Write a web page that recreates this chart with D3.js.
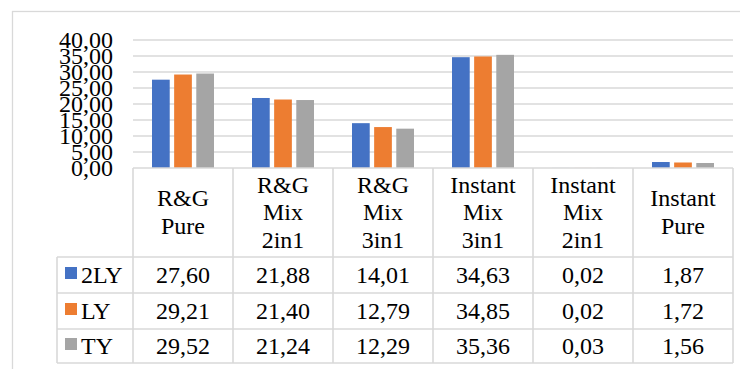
<!DOCTYPE html>
<html><head><meta charset="utf-8"><script src="https://cdn.jsdelivr.net/npm/d3@7"></script></head>
<body><svg id="chart" width="748" height="369" font-family="Liberation Serif"></svg>
<script>
// Product categories (each word goes on its own header line)
const categories = ["R&G Pure", "R&G Mix 2in1", "R&G Mix 3in1", "Instant Mix 3in1", "Instant Mix 2in1", "Instant Pure"];
// Series names and their values per category
const seriesNames = ["2LY", "LY", "TY"];
const values2LY = [27.60, 21.88, 14.01, 34.63, 0.02, 1.87];
const valuesLY  = [29.21, 21.40, 12.79, 34.85, 0.02, 1.72];
const valuesTY  = [29.52, 21.24, 12.29, 35.36, 0.03, 1.56];
const yTicks = [0, 5, 10, 15, 20, 25, 30, 35, 40];

const seriesValues = [values2LY, valuesLY, valuesTY];
const colors = ["#4472C4", "#ED7D31", "#A5A5A5"];
const gridColor = "#D9D9D9";
const fontSize = 24;
const fmt = v => d3.format(".2f")(v).replace(".", ",");

// the page keeps its default body margin, so the drawing is shifted back by it
const svg = d3.select("#chart").append("g").attr("transform", "translate(-8,-8)");

// Outer chart frame
svg.append("rect")
  .attr("x", 12.5).attr("y", 11.5)
  .attr("width", 800).attr("height", 400)
  .attr("fill", "none").attr("stroke", gridColor).attr("stroke-width", 1.3);

const plotLeft = 133, plotRight = 733, plotTop = 40, plotBottom = 168;
const x = d3.scaleBand().domain(categories).range([plotLeft, plotRight]).padding(0);
const y = d3.scaleLinear().domain([0, 40]).range([plotBottom, plotTop]);
const xs = d3.scaleBand().domain(seriesNames)
  .range([19, x.bandwidth() - 19]).paddingInner(0.2).paddingOuter(0);

// Horizontal gridlines
svg.append("g").selectAll("line")
  .data(yTicks.filter(t => t > 0))
  .join("line")
  .attr("x1", plotLeft).attr("x2", plotRight)
  .attr("y1", d => y(d)).attr("y2", d => y(d))
  .attr("stroke", gridColor).attr("stroke-width", 1.6);

const textStyle = sel => sel
  .attr("font-family", "Liberation Serif")
  .style("font-family", "'Liberation Serif'")
  .attr("font-size", fontSize)
  .attr("fill", "#000");

// Y axis labels
const yAxis = d3.axisLeft(y).tickValues(yTicks).tickFormat(fmt).tickSize(0).tickPadding(0);
const yg = svg.append("g").attr("transform", "translate(113,0)").call(yAxis);
yg.attr("font-family", "Liberation Serif").attr("font-size", fontSize);
yg.select(".domain").remove();
yg.selectAll("text")
  .call(textStyle)
  .attr("dy", "0.3em")
  .attr("text-anchor", "end");

// Bars
const groups = svg.append("g").selectAll("g")
  .data(categories)
  .join("g")
  .attr("transform", d => `translate(${x(d)},0)`);

groups.selectAll("rect")
  .data((d, i) => seriesNames.map((s, k) => ({ s, k, v: seriesValues[k][i] })))
  .join("rect")
  .attr("x", d => xs(d.s))
  .attr("width", xs.bandwidth())
  .attr("y", d => y(d.v))
  .attr("height", d => y(0) - y(d.v))
  .attr("fill", d => colors[d.k]);

// Data table
const headerTop = plotBottom, headerBottom = 257;
const rowEdges = [257, 293, 329, 363];
const legendLeft = 57;
const tbl = svg.append("g").attr("stroke", gridColor).attr("stroke-width", 1.6);

// table top line (also the category axis)
tbl.append("line").attr("x1", plotLeft).attr("x2", plotRight)
  .attr("y1", headerTop).attr("y2", headerTop);
// row separators
tbl.selectAll("line.row").data(rowEdges).join("line").attr("class", "row")
  .attr("x1", legendLeft).attr("x2", plotRight)
  .attr("y1", d => d).attr("y2", d => d);
// column separators
const colEdges = categories.map(c => x(c)).concat([plotRight]);
tbl.selectAll("line.col").data(colEdges).join("line").attr("class", "col")
  .attr("x1", d => d).attr("x2", d => d)
  .attr("y1", headerTop).attr("y2", rowEdges[rowEdges.length - 1]);
tbl.append("line").attr("x1", legendLeft).attr("x2", legendLeft)
  .attr("y1", rowEdges[0]).attr("y2", rowEdges[rowEdges.length - 1]);

// Category headers
const lineH = 27.5;
const headerMid = (headerTop + headerBottom) / 2;
svg.append("g").selectAll("text")
  .data(categories)
  .join("text")
  .call(textStyle)
  .attr("text-anchor", "middle")
  .each(function (d) {
    const words = d.split(" ");
    const first = headerMid + 7.5 - (words.length - 1) * lineH / 2;
    d3.select(this).selectAll("tspan").data(words).join("tspan")
      .attr("x", x(d) + x.bandwidth() / 2)
      .attr("y", (w, j) => first + j * lineH)
      .text(w => w);
  });

// Series rows: legend key, name and values
seriesNames.forEach((s, k) => {
  const mid = (rowEdges[k] + rowEdges[k + 1]) / 2;
  svg.append("rect")
    .attr("x", 65).attr("y", mid - 8)
    .attr("width", 12).attr("height", 12)
    .attr("fill", colors[k]);
  svg.append("text")
    .call(textStyle)
    .attr("x", 81).attr("y", mid + 7.5)
    .text(s);
  svg.append("g").selectAll("text")
    .data(categories)
    .join("text")
    .call(textStyle)
    .attr("x", c => x(c) + x.bandwidth() / 2)
    .attr("y", mid + 7.5)
    .attr("text-anchor", "middle")
    .text((c, i) => fmt(seriesValues[k][i]));
});
</script></body></html>
